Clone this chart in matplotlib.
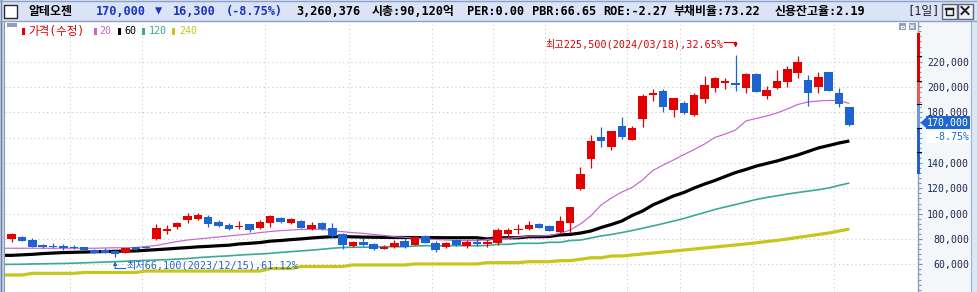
import numpy as np
import matplotlib
matplotlib.use("Agg")
import matplotlib.pyplot as plt
from matplotlib.patches import Rectangle, Polygon
from matplotlib.ticker import MultipleLocator, FuncFormatter

plt.rcParams['font.family'] = ['DejaVu Sans Mono', 'Noto Sans CJK KR']

# ---------------- data (thousand won) ----------------
opens = [80.2, 81.8, 79.5, 75.5, 74.7, 74.2, 73.9, 73.4, 71.6, 71.6,
         70.5, 69.0, 73.1, 73.9, 79.8, 86.8, 89.7, 95.0, 95.6, 97.6,
         93.2, 90.8, 89.2, 91.8, 88.4, 92.4, 96.8, 92.9, 94.2, 87.9,
         92.4, 88.7, 84.0, 74.5, 77.9, 75.8, 72.1, 73.9, 78.7, 75.3,
         82.4, 77.1, 73.9, 79.2, 74.7, 77.9, 76.9, 77.1, 84.0, 87.1,
         87.9, 91.8, 90.5, 85.8, 92.4, 119.7, 142.9, 160.5, 152.9, 169.2,
         158.2, 174.8, 194.0, 196.9, 181.9, 187.2, 177.9, 190.5, 199.5, 203.4,
         203.4, 199.5, 210.3, 193.2, 199.0, 204.2, 211.3, 205.5, 199.8, 211.9,
         195.5, 184.0]
highs = [85.0, 82.4, 80.6, 76.3, 76.6, 76.3, 75.5, 73.6, 72.3, 72.7,
         71.1, 72.9, 73.9, 74.5, 91.8, 91.1, 93.2, 100.3, 100.3, 99.0,
         95.0, 92.4, 94.4, 92.0, 95.0, 99.0, 97.6, 96.4, 95.0, 93.7,
         93.7, 92.9, 85.0, 78.4, 80.6, 76.6, 75.0, 79.2, 80.6, 82.4,
         83.2, 78.4, 77.6, 79.8, 79.2, 80.6, 79.2, 88.5, 89.0, 91.8,
         94.2, 92.4, 91.1, 98.2, 105.2, 136.9, 162.1, 168.2, 165.5, 176.1,
         169.2, 194.5, 198.2, 198.4, 191.5, 189.0, 195.5, 208.7, 208.2, 206.9,
         225.5, 210.8, 210.8, 200.8, 213.4, 216.6, 224.5, 209.5, 211.6, 212.2,
         199.5, 184.5]
lows = [77.9, 78.2, 73.4, 73.1, 73.1, 71.3, 72.1, 71.0, 68.7, 68.7,
        66.1, 68.7, 71.3, 72.1, 79.5, 83.7, 87.7, 92.4, 95.0, 89.7,
        89.7, 87.1, 87.7, 85.5, 87.7, 89.2, 92.9, 91.8, 88.4, 87.1,
        87.1, 80.6, 72.1, 73.4, 74.5, 71.3, 71.9, 73.1, 73.1, 75.0,
        76.6, 70.0, 73.1, 74.7, 73.1, 74.7, 73.9, 75.0, 81.1, 84.0,
        87.1, 88.5, 86.3, 84.5, 85.0, 118.7, 136.3, 152.4, 150.3, 159.0,
        158.0, 168.7, 189.2, 180.5, 176.6, 178.7, 177.4, 187.2, 196.3, 198.4,
        197.1, 195.5, 196.0, 190.5, 198.2, 199.8, 206.9, 185.0, 195.5, 196.6,
        184.5, 169.5]
closes = [83.7, 78.7, 74.0, 73.7, 73.4, 73.7, 72.7, 71.3, 69.2, 69.2,
          67.9, 72.7, 72.3, 72.7, 88.9, 87.3, 92.4, 98.2, 99.0, 91.8,
          90.5, 88.1, 90.5, 87.1, 93.7, 98.2, 93.4, 95.6, 88.7, 91.1,
          87.7, 82.4, 75.3, 77.4, 75.3, 72.1, 73.9, 77.1, 73.9, 81.3,
          77.1, 71.3, 76.6, 75.3, 77.9, 76.1, 77.4, 87.1, 87.1, 87.9,
          91.1, 88.9, 86.6, 94.2, 105.0, 131.3, 157.4, 157.6, 165.3, 160.8,
          167.4, 192.9, 195.0, 184.5, 191.1, 179.8, 193.7, 201.6, 207.4, 204.8,
          201.8, 210.1, 196.3, 197.7, 204.8, 214.2, 219.5, 195.5, 208.2, 196.9,
          186.3, 170.0]
ma20 = [72.7, 72.7, 72.7, 72.7, 72.7, 72.7, 72.7, 72.7, 72.7, 72.9,
        73.1, 73.1, 73.3, 74.1, 74.9, 76.5, 78.0, 79.2, 80.0, 80.8,
        81.6, 82.4, 83.2, 84.0, 85.1, 85.9, 86.6, 87.1, 87.5, 87.7,
        87.7, 86.7, 85.8, 85.0, 84.5, 83.6, 82.8, 81.8, 81.4, 80.6,
        80.0, 79.6, 79.2, 78.8, 78.7, 78.7, 79.6, 80.4, 80.6, 81.2,
        82.4, 82.4, 82.8, 84.4, 87.1, 91.9, 98.2, 106.9, 112.4, 117.1,
        120.7, 126.6, 134.1, 138.4, 142.4, 146.7, 150.7, 155.0, 160.2, 162.9,
        166.1, 173.2, 175.2, 177.1, 179.5, 182.7, 186.2, 188.2, 189.0, 189.4,
        189.4, 187.0]
ma60 = [67.1, 67.5, 67.9, 68.5, 68.9, 69.3, 69.5, 69.7, 69.9, 70.1,
        70.3, 70.4, 70.6, 71.1, 71.6, 72.1, 72.7, 73.2, 73.8, 74.2,
        74.7, 75.1, 76.1, 76.6, 77.2, 78.3, 78.8, 79.5, 80.1, 80.8,
        81.4, 81.8, 81.9, 81.7, 81.5, 81.4, 81.3, 81.2, 81.2, 81.1,
        81.1, 81.1, 81.0, 81.0, 81.0, 81.0, 80.0, 81.0, 81.0, 81.0,
        81.8, 81.8, 82.0, 83.2, 83.6, 84.7, 86.3, 89.1, 91.5, 94.2,
        98.6, 102.1, 106.9, 110.4, 114.0, 116.7, 120.3, 123.4, 126.2, 129.4,
        132.5, 134.9, 137.6, 139.6, 141.6, 144.0, 146.3, 149.1, 151.9, 153.8,
        155.8, 157.4]
ma120 = [60.0, 60.1, 60.3, 60.4, 60.6, 60.7, 60.9, 61.2, 61.5, 61.8,
         62.1, 62.4, 62.8, 63.1, 63.4, 63.7, 64.1, 64.6, 65.3, 65.8,
         66.3, 66.7, 67.3, 67.8, 68.2, 68.7, 69.4, 70.0, 70.6, 71.2,
         71.9, 72.7, 73.3, 73.5, 73.5, 73.7, 73.9, 73.9, 73.9, 74.5,
         74.7, 74.7, 74.7, 74.7, 74.7, 74.7, 74.9, 75.8, 75.8, 76.6,
         76.6, 76.6, 77.4, 77.4, 78.8, 79.2, 80.8, 82.4, 83.6, 85.1,
         86.7, 88.5, 90.3, 92.2, 94.2, 96.2, 98.6, 100.9, 103.3, 105.3,
         107.2, 109.2, 111.2, 112.8, 114.1, 115.5, 116.7, 117.8, 118.9, 120.3,
         122.3, 124.2]
ma240 = [51.6, 51.6, 52.9, 52.9, 52.9, 52.9, 52.9, 53.6, 53.6, 53.6,
         53.6, 53.6, 53.6, 54.7, 54.7, 54.7, 54.7, 54.7, 54.7, 54.7,
         54.7, 54.7, 54.7, 54.7, 54.7, 56.7, 56.7, 56.7, 58.3, 58.3,
         58.3, 58.3, 58.3, 59.5, 59.5, 59.5, 59.5, 59.5, 59.5, 60.3,
         60.3, 60.3, 60.3, 60.3, 60.3, 60.3, 61.3, 61.3, 61.3, 61.3,
         62.1, 62.1, 62.1, 62.9, 62.9, 64.0, 65.2, 65.2, 66.6, 66.6,
         67.4, 68.2, 68.9, 69.7, 70.5, 71.3, 72.1, 72.9, 73.7, 74.5,
         75.3, 76.1, 77.0, 78.0, 78.9, 80.0, 81.2, 82.4, 83.6, 84.7,
         86.3, 87.9]

stock_name = "알테오젠"
last_price = 170000
change_amt = 16300
change_pct = -8.75
volume = 3260376
header_stats = [(372, "시총:90,120억"), (467, "PER:0.00"), (532, "PBR:66.65"),
                (603, "ROE:-2.27"), (673, "부채비율:73.22"), (775, "신용잔고율:2.19")]
high_date = "2024/03/18"
low_date = "2023/12/15"
legend_labels = ["가격(수정)", "20", "60", "120", "240"]
price_ticks = [60000, 80000, 100000, 120000, 140000, 160000, 180000, 200000, 220000]
hidden_tick = 160000          # covered by the change-% box in the reference
band_edges = [242900, 205000, 186400, 167900, 131300]
band_ticks = [224500, 205000, 186400, 167900, 148900]
grid_x = [5.6, 12.6, 24.5, 32.6, 40.6, 46.5, 51.6, 59.5, 64.6, 71.7, 79.5]

RED = '#e20000'
BLUE = '#1e63d2'
C20, C60, C120, C240 = '#c862d4', '#000000', '#3aa996', '#c6c61c'
NAVY = '#1e2850'

# ---------------- figure ----------------
W, H = 977, 292
fig = plt.figure(figsize=(W / 100, H / 100), dpi=100)
fig.patch.set_facecolor('#f3f7fa')

ax = fig.add_axes([5 / W, 0, (918 - 5) / W, 1 - 22 / H])
ax.set_facecolor('white')
ax.set_xlim(-0.648, 87.64)
ax.set_ylim(38157, 251349)
for s in ['top', 'left', 'bottom']:
    ax.spines[s].set_visible(False)
ax.spines['right'].set_color('#8d9ec0')
ax.spines['right'].set_linewidth(1.0)

ax.yaxis.tick_right()
ax.set_yticks(price_ticks)
ax.yaxis.set_major_formatter(FuncFormatter(lambda v, p: '' if v == hidden_tick else f"{v:,.0f}"))
ax.yaxis.set_minor_locator(MultipleLocator(4000))
ax.tick_params(axis='y', which='major', length=3, width=0.8, color='#7f90b4',
               pad=33.7, labelsize=7.1, labelcolor=NAVY)
ax.tick_params(axis='y', which='minor', length=2.2, width=0.8, color='#7f90b4')
for lab in ax.get_yticklabels():
    lab.set_horizontalalignment('right')
ax.set_xticks([])

ax.grid(axis='y', which='major', color='#c3c7cc', linestyle=(0, (1, 3)), linewidth=0.75)
ax.set_axisbelow(True)
for g in grid_x:
    ax.axvline(g, color='#c3c7cc', linestyle=(0, (1, 3)), linewidth=0.75, zorder=0.5)

o = np.array(opens) * 1000
h = np.array(highs) * 1000
l = np.array(lows) * 1000
c = np.array(closes) * 1000
idx = np.arange(len(c))

# moving averages
x0 = ax.get_xlim()[0]
xs = np.r_[x0, idx]
for vals, col, lw in [(ma240, C240, 2.3), (ma120, C120, 1.2), (ma60, C60, 2.3), (ma20, C20, 0.85)]:
    v = np.array(vals) * 1000
    ax.plot(xs, np.r_[v[0], v], color=col, lw=lw, zorder=3, solid_capstyle='butt')

# candles
up = c >= o
cols = np.where(up, RED, BLUE)
ax.vlines(idx, l, h, colors=cols, lw=0.9, zorder=4)
mid = (o + c) / 2
bh = np.maximum(np.abs(c - o), 1500)
ax.bar(idx, bh, bottom=mid - bh / 2, width=0.82, color=cols, linewidth=0, zorder=5)

# high / low annotations
hi_i = int(np.argmax(h)); hi = h[hi_i]
lo_i = int(np.argmin(l)); lo = l[lo_i]
last = c[-1]
hi_pct = (hi - last) / last * 100
lo_pct = (last - lo) / last * 100
ax.text(hi_i - 1.22, hi + 8500, f"최고{hi:,.0f}({high_date}),{hi_pct:.2f}%",
        ha='right', va='center', color=RED, fontsize=7.3, zorder=6)
ax.plot([hi_i - 1.1, hi_i], [hi + 9800, hi + 9800], color=RED, lw=0.8, zorder=6)
ax.annotate('', xy=(hi_i, hi + 5600), xytext=(hi_i, hi + 9900),
            arrowprops=dict(arrowstyle='-|>', color=RED, lw=0.8, mutation_scale=5,
                            shrinkA=0, shrinkB=0), zorder=6)
ax.text(lo_i + 1.05, lo - 7000, f"최저{lo:,.0f}({low_date}),{lo_pct:.2f}%",
        ha='left', va='center', color=BLUE, fontsize=7.3, zorder=6)
ax.plot([lo_i, lo_i + 0.95], [lo - 9200, lo - 9200], color=BLUE, lw=0.8, zorder=6)
ax.annotate('', xy=(lo_i, lo - 3800), xytext=(lo_i, lo - 9300),
            arrowprops=dict(arrowstyle='-|>', color=BLUE, lw=0.8, mutation_scale=5,
                            shrinkA=0, shrinkB=0), zorder=6)

# ---------------- UI overlay (pixel coords) ----------------
ui = fig.add_axes([0, 0, 1, 1], zorder=10)
ui.set_xlim(0, W); ui.set_ylim(H, 0); ui.axis('off')

def ypx(v):
    return H - ax.transData.transform((0, v))[1]

# price band bar on the axis
band_cols = ['#e00000', '#e85a5a', '#6b9be3', '#1f62d0']
for top, bot, bc in zip(band_edges[:-1], band_edges[1:], band_cols):
    y1, y2 = ypx(top), ypx(bot)
    ui.add_patch(Rectangle((916.8, y1), 3.4, y2 - y1, fc=bc, ec='none'))
for bt in band_ticks:
    ui.plot([916.5, 920.5], [ypx(bt), ypx(bt)], color='black', lw=0.8)

# frames
ui.add_patch(Rectangle((0, 21), 4.5, H - 21, fc='#c9d3e6', ec='none'))
ui.plot([0.5, 0.5], [0, H], color='#6b7ca2', lw=1)
ui.plot([3.8, 3.8], [21, H], color='#8a9aba', lw=0.8)
ui.add_patch(Rectangle((970.5, 21), 6.5, H - 21, fc='#dde6f5', ec='none'))
ui.plot([970.8, 970.8], [21, H], color='#9fb0cf', lw=0.8)

# header bar
ui.add_patch(Rectangle((0, 0), W, 21, fc='#dbe4f6', ec='none'))
ui.plot([0, W], [21, 21], color='#8da0c6', lw=1)
ui.plot([0, W], [0.5, 0.5], color='#8da0c6', lw=1)
ui.add_patch(Rectangle((3.5, 4.5), 13, 13, fc='white', ec='#2a2a2a', lw=1))
hy = 11.3
hfs = 8.6
ui.text(28, hy, stock_name, color='black', fontsize=hfs, weight='bold', va='center')
HB = '#1a34c4'
ui.text(96, hy, f"{last_price:,}", color=HB, fontsize=hfs, weight='bold', va='center')
ui.text(155, hy, "▼", color=HB, fontsize=hfs, weight='bold', va='center')
ui.text(173, hy, f"{change_amt:,}", color=HB, fontsize=hfs, weight='bold', va='center')
ui.text(226, hy, f"({change_pct:.2f}%)", color=HB, fontsize=hfs, weight='bold', va='center')
ui.text(296, hy, f"{volume:,}", color='black', fontsize=hfs, weight='bold', va='center')
for xp, s in header_stats:
    ui.text(xp, hy, s, color='black', fontsize=hfs, weight='bold', va='center')
ui.text(907, hy, "[1일]", color='#202020', fontsize=hfs, va='center')
for bx, sym in [(941.5, 'min'), (957.5, 'x')]:
    ui.add_patch(Rectangle((bx, 3.5), 15, 15, fc='#eef1f6', ec='#5d6780', lw=1))
    if sym == 'min':
        ui.add_patch(Rectangle((bx + 4, 7.5), 7, 7, fc='none', ec='#1c1c1c', lw=1))
        ui.plot([bx + 4, bx + 11], [8.5, 8.5], color='#1c1c1c', lw=1.6)
    else:
        ui.plot([bx + 4, bx + 11], [7, 14], color='#1c1c1c', lw=1.4)
        ui.plot([bx + 4, bx + 11], [14, 7], color='#1c1c1c', lw=1.4)

# small chart icons
for bx in [898.5, 908.5]:
    ui.add_patch(Rectangle((bx, 23), 7, 7, fc='#8fa1c0', ec='none'))
ui.add_patch(Rectangle((900.5, 25.5), 3, 2, fc='none', ec='white', lw=0.7))
ui.plot([910.5, 913.5], [25, 28], color='white', lw=0.8)
ui.plot([910.5, 913.5], [28, 25], color='white', lw=0.8)

# legend
ui.add_patch(Rectangle((7, 22.7), 10, 4, fc='#8e9fbf', ec='none'))
ly = 31.5
leg_items = [(22.3, 28, RED, legend_labels[0], 8.3),
             (94.3, 99, C20, legend_labels[1], 7.2),
             (118.0, 124, C60, legend_labels[2], 7.2),
             (142.0, 149, C120, legend_labels[3], 7.2),
             (172.0, 179, C240, legend_labels[4], 7.2)]
for bx, tx, col, lab, fs in leg_items:
    ui.add_patch(Rectangle((bx, 28.3), 2.6, 6.7, fc=col, ec='none'))
    ui.text(tx, ly, lab, color=col, fontsize=fs, va='center')

# last price box
yc = ypx(last) - 2.3
ui.add_patch(Rectangle((926, yc - 6.7), 44, 13.4, fc='#1f66d1', ec='none'))
ui.add_patch(Polygon([(920.5, yc), (926.5, yc - 5.5), (926.5, yc + 5.5)], closed=True,
                     fc='#1f66d1', ec='none'))
ui.text(969, yc, f"{last:,.0f}", color='white', fontsize=7.1, ha='right', va='center')
ui.add_patch(Rectangle((926, yc + 8), 44, 12.5, fc='white', ec='none'))
ui.text(969, yc + 14, f"{change_pct:.2f}%", color='#1f66d1', fontsize=7.1, ha='right', va='center')

fig.savefig('out.png', dpi=100)
